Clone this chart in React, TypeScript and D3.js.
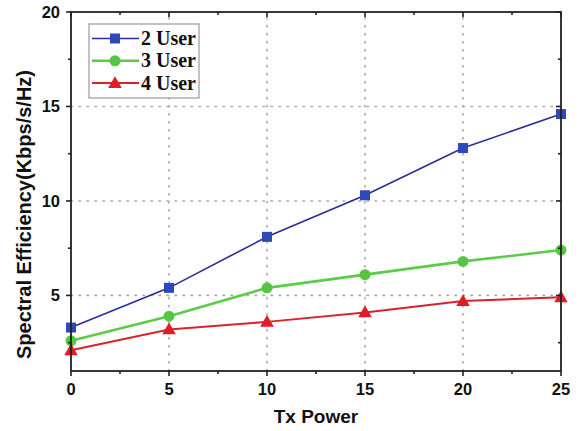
import React from "react";
import * as d3 from "d3";

// values
const txPower = [0, 5, 10, 15, 20, 25];
const user2 = [3.3, 5.4, 8.1, 10.3, 12.8, 14.6];
const user3 = [2.6, 3.9, 5.4, 6.1, 6.8, 7.4];
const user4 = [2.1, 3.2, 3.6, 4.1, 4.7, 4.9];
const seriesNames = ["2 User", "3 User", "4 User"];
const xTicks = [0, 5, 10, 15, 20, 25];
const yTicks = [5, 10, 15, 20];

const W = 580;
const H = 431;
const margin = { top: 12, right: 19, bottom: 60, left: 71 };

const series = [
  { name: seriesNames[0], values: user2, line: "#2a2c98", fill: "#2f48b8", marker: "square", width: 1.6 },
  { name: seriesNames[1], values: user3, line: "#5ccc48", fill: "#55c640", marker: "circle", width: 2.6 },
  { name: seriesNames[2], values: user4, line: "#d8222c", fill: "#e01c26", marker: "triangle", width: 2 },
];

function Marker({ kind, x, y, fill }: { kind: string; x: number; y: number; fill: string }) {
  if (kind === "square") return <rect x={x - 5} y={y - 5} width={10} height={10} fill={fill} />;
  if (kind === "circle") return <circle cx={x} cy={y} r={5.5} fill={fill} />;
  return <path d={d3.symbol(d3.symbolTriangle, 80)() || ""} transform={`translate(${x},${y + 1})`} fill={fill} />;
}

export default function App() {
  const x = d3.scaleLinear().domain([0, 25]).range([margin.left, W - margin.right]);
  const y = d3.scaleLinear().domain([1, 20]).range([H - margin.bottom, margin.top]);
  const [x0, x1] = x.range();
  const [y0, y1] = y.range();
  const xMinor = d3.range(2.5, 25, 5);
  const yMinor = d3.range(2.5, 20, 5);
  const axisColor = "#222";

  const lineGen = (vals: number[]) =>
    d3.line<number>().x((_, i) => x(txPower[i])).y((v) => y(v))(vals) || "";

  return (
    <svg width={W} height={H} style={{ position: "absolute", left: 0, top: 0, background: "#fff" }}>
      {/* grid */}
      <g stroke="#aaa" strokeWidth={1.6} strokeDasharray="1.5,6.5" strokeLinecap="round">
        {xTicks.filter((t) => t > 0 && t < 25).map((t) => (
          <line key={"gx" + t} x1={x(t)} x2={x(t)} y1={y0} y2={y1} />
        ))}
        {yTicks.filter((t) => t < 20).map((t) => (
          <line key={"gy" + t} x1={x0} x2={x1} y1={y(t)} y2={y(t)} />
        ))}
      </g>

      {/* series */}
      {series.map((s) => (
        <g key={s.name}>
          <path d={lineGen(s.values)} fill="none" stroke={s.line} strokeWidth={s.width} />
          {s.values.map((v, i) => (
            <Marker key={i} kind={s.marker} x={x(txPower[i])} y={y(v)} fill={s.fill} />
          ))}
        </g>
      ))}

      {/* frame */}
      <rect x={x0} y={y1} width={x1 - x0} height={y0 - y1} fill="none" stroke={axisColor} strokeWidth={1.8} />

      {/* ticks */}
      <g stroke={axisColor} strokeWidth={1.6}>
        {xTicks.map((t) => (
          <g key={"tx" + t}>
            <line x1={x(t)} x2={x(t)} y1={y0} y2={y0 + 5} />
            <line x1={x(t)} x2={x(t)} y1={y1} y2={y1 + 5} />
          </g>
        ))}
        {xMinor.map((t) => (
          <g key={"mx" + t}>
            <line x1={x(t)} x2={x(t)} y1={y0} y2={y0 + 3} />
            <line x1={x(t)} x2={x(t)} y1={y1} y2={y1 + 3} />
          </g>
        ))}
        {yTicks.map((t) => (
          <g key={"ty" + t}>
            <line x1={x0} x2={x0 - 5} y1={y(t)} y2={y(t)} />
            <line x1={x1} x2={x1 - 5} y1={y(t)} y2={y(t)} />
          </g>
        ))}
        {yMinor.map((t) => (
          <g key={"my" + t}>
            <line x1={x0} x2={x0 - 3} y1={y(t)} y2={y(t)} />
            <line x1={x1} x2={x1 - 3} y1={y(t)} y2={y(t)} />
          </g>
        ))}
      </g>

      {/* tick labels */}
      <g fontFamily="Liberation Sans, Arial, sans-serif" fontWeight="bold" fontSize={16.5} fill="#111">
        {xTicks.map((t) => (
          <text key={"lx" + t} x={x(t)} y={y0 + 24} textAnchor="middle">{t}</text>
        ))}
        {yTicks.map((t) => (
          <text key={"ly" + t} x={x0 - 11} y={y(t) + 6} textAnchor="end">{t}</text>
        ))}
      </g>

      {/* axis titles */}
      <text x={(x0 + x1) / 2} y={423} textAnchor="middle" fontFamily="Liberation Sans, Arial, sans-serif"
        fontWeight="bold" fontSize={19} fill="#111">Tx Power</text>
      <text transform={`translate(31,${(y0 + y1) / 2 + 23}) rotate(-90)`} textAnchor="middle"
        fontFamily="Liberation Sans, Arial, sans-serif" fontWeight="bold" fontSize={20} fill="#111">
        Spectral Efficiency(Kbps/s/Hz)
      </text>

      {/* legend */}
      <g>
        <rect x={89} y={24} width={110} height={74} fill="#fff" stroke="#999" strokeWidth={1.2} />
        {series.map((s, i) => {
          const ly = 38.5 + i * 22.3;
          return (
            <g key={"lg" + s.name}>
              <line x1={92} x2={139} y1={ly} y2={ly} stroke={s.line} strokeWidth={s.width} />
              <Marker kind={s.marker} x={115} y={ly} fill={s.fill} />
              <text x={141} y={ly + 6.5} fontFamily="Liberation Serif, Times New Roman, serif" fontWeight="bold"
                fontSize={20} fill="#111">{s.name}</text>
            </g>
          );
        })}
      </g>
    </svg>
  );
}
